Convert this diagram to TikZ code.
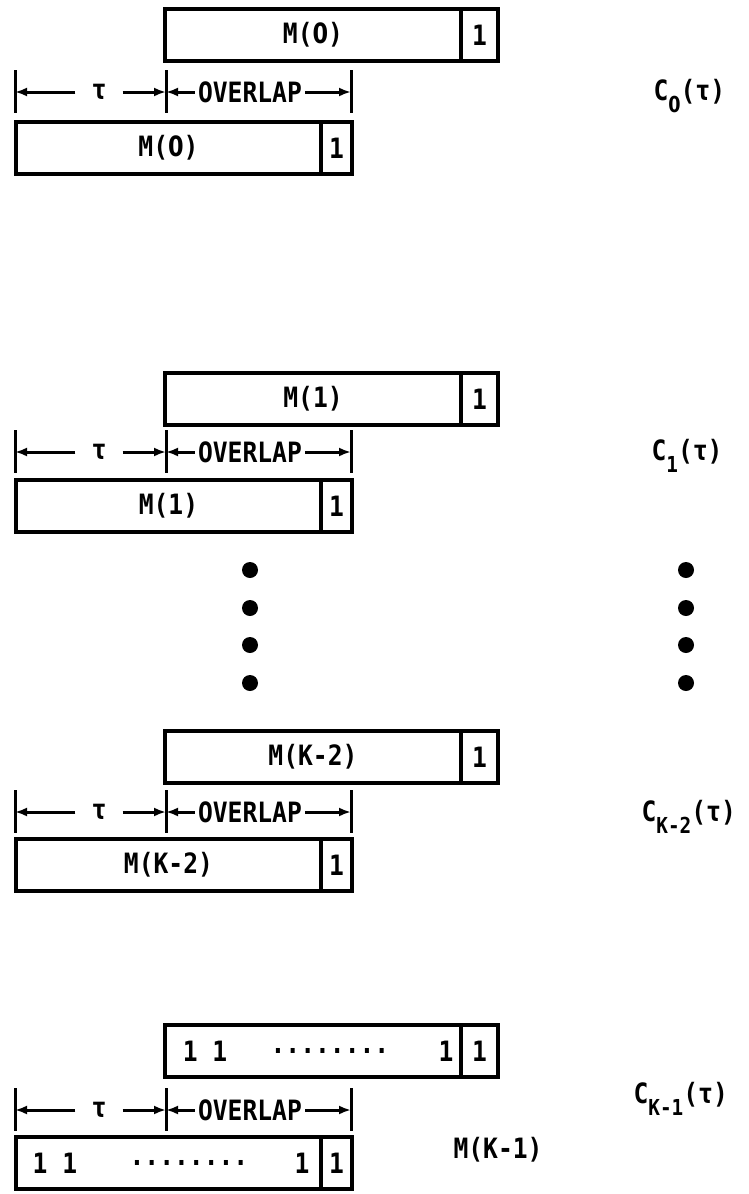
\documentclass[tikz,border=0pt]{standalone}
\usepackage{fontspec}
\usetikzlibrary{arrows.meta}
\newfontfamily\letterfont{DejaVu Sans Mono}[FakeStretch=0.88]
\newfontfamily\zerofont{DejaVu Sans}[FakeStretch=0.8]
\newcommand\zero{{\zerofont\bfseries 0}}
\newcommand\lowsub[1]{\raisebox{-12pt}{\fontsize{22}{22}\selectfont #1}}

\tikzset{
  every node/.style={font={\letterfont\bfseries\fontsize{28}{28}\selectfont}},
  cell/.style={draw, line width=3.5pt, minimum height=52pt, inner sep=0pt,
               outer sep=0pt, anchor=north west},
  tickline/.style={line width=3pt},
  dimline/.style={line width=3pt, -{Latex[length=12pt,width=9pt]}},
  bigdot/.style={circle, fill=black, minimum size=16pt, inner sep=0pt},
  gap/.style={inner xsep=16pt, inner ysep=0pt},
}

% one shifted pair of code words with the dimension line between them
% #1 name prefix, #2 top of upper word, #3 height of dimension line,
% #4 top of lower word, #5 upper text, #6 lower text
\newcommand\pairrow[6]{%
  \node[cell, minimum width=296pt] (#1tm) at (165,#2) {#5};
  \node[cell, minimum width=37pt] (#1tc) at (#1tm.north east) {1};
  \coordinate (#1a) at (15,#3);
  \coordinate (#1b) at (166,#3);
  \coordinate (#1c) at (351,#3);
  \foreach \tk in {#1a,#1b,#1c}{\draw[tickline] ([yshift=22pt]\tk) -- ([yshift=-21pt]\tk);}
  \node[gap] (#1tau) at (99,#3) {τ};
  \node[inner xsep=3pt, inner ysep=0pt] (#1ov) at (250,#3) {OVERLAP};
  \draw[dimline] (#1tau.west) -- (#1a);
  \draw[dimline] (#1tau.east) -- (#1b);
  \draw[dimline] (#1ov.west) -- (#1b);
  \draw[dimline] (#1ov.east) -- (#1c);
  \node[cell, minimum width=305pt] (#1bm) at (16,#4) {#6};
  \node[cell, minimum width=31pt] (#1bc) at (#1bm.north east) {1};
}

\begin{document}
\begin{tikzpicture}[x=1pt, y=-1pt]
\useasboundingbox (0,0) rectangle (748,1194);

\pairrow{r0}{9}{92}{122}{M(\zero)}{M(\zero)}
\node[anchor=base west] (c0) at (650,100) {C\lowsub{\zero}(τ)};

\pairrow{r1}{373}{452}{480}{M(1)}{M(1)}
\node[anchor=base west] (c1) at (648,460) {C\lowsub{1}(τ)};

% continuation dots
\foreach \i/\yy in {1/570,2/608,3/645,4/683}{
  \node[bigdot] (ld\i) at (250,\yy) {};
  \node[bigdot] (rd\i) at (686,\yy) {};
}

\pairrow{r2}{731}{812}{839}{M(K-2)}{M(K-2)}
\node[anchor=base west] (c2) at (638,821) {C\lowsub{K-2}(τ)};

\pairrow{r3}{1025}{1110}{1137}{}{}
\node (u11) at (205,1051) {1 1};
\node (udots) at (330,1051) {........};
\node (u1) at (446,1051) {1};
\node (l11) at (55,1163) {1 1};
\node (ldots) at (189,1163) {........};
\node (l1) at (302,1163) {1};
\node[anchor=base west] (c3) at (630,1103) {C\lowsub{K-1}(τ)};
\node (mk1) at (498,1150) {M(K-1)};
\end{tikzpicture}
\end{document}
